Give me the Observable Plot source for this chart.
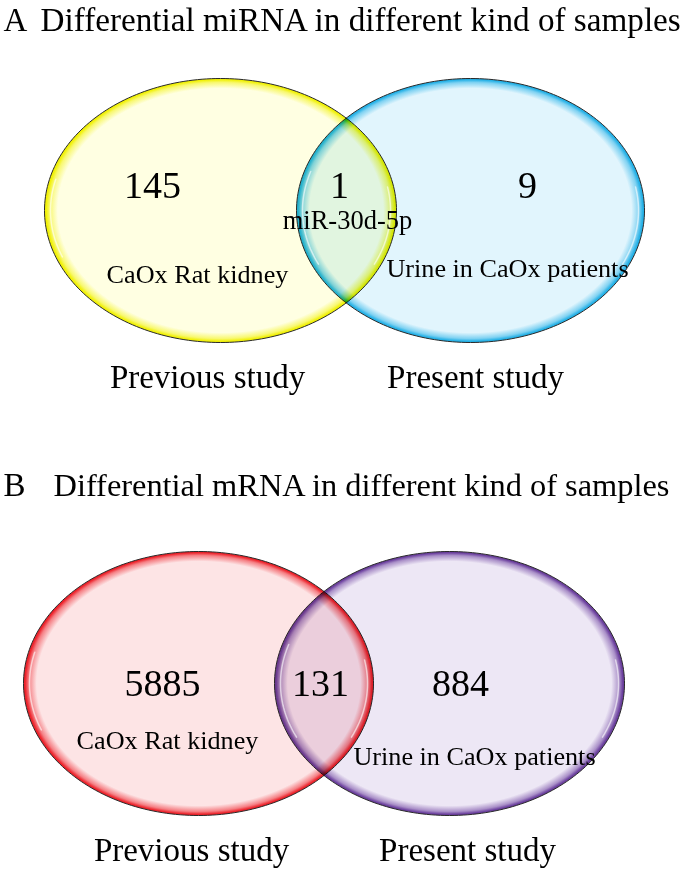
<!DOCTYPE html>
<html>
<head>
<meta charset="utf-8">
<script src="https://cdn.jsdelivr.net/npm/d3@7"></script>
<script src="https://cdn.jsdelivr.net/npm/@observablehq/plot@0.6"></script>
<style>
  html, body { margin: 0; padding: 0; background: #fff; }
  #chart svg { display: block; }
</style>
</head>
<body>
<div id="chart"></div>
<script>
// ---------- data ----------
const panelLetters = ["A", "B"];
const panelTitles = [
  "Differential miRNA in different kind of samples",
  "Differential mRNA in different kind of samples"
];
const leftOnlyCounts = [145, 5885];
const sharedCounts = [1, 131];
const rightOnlyCounts = [9, 884];
const sharedNames = ["miR-30d-5p", ""];
const leftSetNames = ["CaOx Rat kidney", "CaOx Rat kidney"];
const rightSetNames = ["Urine in CaOx patients", "Urine in CaOx patients"];
const studyNames = ["Previous study", "Present study"];

// ---------- layout & style (not data) ----------
const W = 685, H = 871;
const layout = [
  { titleY: 30, titleX: 40, letterX: 3, titleSize: 33.2,
    left: { cx: 220, cy: 210, rx: 176, ry: 132 },
    right: { cx: 470, cy: 210, rx: 174, ry: 132 },
    countY: 197, leftCountX: 152, sharedX: 339, rightCountX: 527,
    sharedNameX: 347, sharedNameY: 228,
    leftNameX: 197, leftNameY: 282, rightNameX: 507, rightNameY: 276,
    studyY: 387, studyLeftX: 207, studyRightX: 475 },
  { titleY: 495, titleX: 53, letterX: 3, titleSize: 32.4,
    left: { cx: 198, cy: 683, rx: 175, ry: 132 },
    right: { cx: 449, cy: 683, rx: 175, ry: 132 },
    countY: 695, leftCountX: 162, sharedX: 320, rightCountX: 460,
    sharedNameX: 320, sharedNameY: 725,
    leftNameX: 167, leftNameY: 748, rightNameX: 474, rightNameY: 764,
    studyY: 860, studyLeftX: 191, studyRightX: 467 }
];
const palette = [
  { left: { fill: "#ffffe2", edge: "#f0f000" }, right: { fill: "#e1f5fd", edge: "#1eaee6" } },
  { left: { fill: "#fde4e5", edge: "#ec1c24" }, right: { fill: "#ede7f5", edge: "#66399a" } }
];
const FONT = "'Liberation Serif', 'Times New Roman', serif";

// ---------- helpers ----------
function ellipsePoints(e, id, n = 240) {
  const pts = [];
  for (let i = 0; i < n; i++) {
    const t = (i / n) * 2 * Math.PI;
    pts.push({ x: e.cx + e.rx * Math.cos(t), y: e.cy + e.ry * Math.sin(t), id });
  }
  return pts;
}
function arcPoints(e, inset, t0, t1, id, n = 40) {
  const pts = [];
  for (let i = 0; i <= n; i++) {
    const t = t0 + (t1 - t0) * (i / n);
    pts.push({ x: e.cx + (e.rx - inset) * Math.cos(t), y: e.cy + (e.ry - inset) * Math.sin(t), id });
  }
  return pts;
}

// gradient defs
function defsMark() {
  const ns = "http://www.w3.org/2000/svg";
  const defs = document.createElementNS(ns, "defs");
  palette.forEach((p, i) => {
    ["left", "right"].forEach(side => {
      const g = document.createElementNS(ns, "radialGradient");
      g.setAttribute("id", `g${i}${side}`);
      [[0, 0], [0.925, 0], [0.97, 0.5], [0.99, 0.95], [1, 1]].forEach(([o, t]) => {
        const s = document.createElementNS(ns, "stop");
        s.setAttribute("offset", o);
        s.setAttribute("stop-color", d3.interpolateRgb(p[side].fill, p[side].edge)(t));
        g.appendChild(s);
      });
      defs.appendChild(g);
    });
  });
  return defs;
}

const marks = [defsMark];

panelLetters.forEach((letter, i) => {
  const L = layout[i];
  // ellipses
  marks.push(Plot.line(ellipsePoints(L.left, "l"), {
    x: "x", y: "y", curve: "linear-closed", fill: `url(#g${i}left)`,
    stroke: "#2a2a2a", strokeWidth: 1
  }));
  marks.push(Plot.line(ellipsePoints(L.right, "r"), {
    x: "x", y: "y", curve: "linear-closed", fill: `url(#g${i}right)`,
    stroke: "#2a2a2a", strokeWidth: 1, mixBlendMode: "multiply"
  }));
  // glossy highlights
  const hl = [
    ...arcPoints(L.left, 6, Math.PI * 0.88, Math.PI * 1.08, "a"),
    ...arcPoints(L.left, 6, -Math.PI * 0.06, Math.PI * 0.14, "b"),
    ...arcPoints(L.right, 6, Math.PI * 0.86, Math.PI * 1.10, "c"),
    ...arcPoints(L.right, 6, -Math.PI * 0.06, Math.PI * 0.14, "d")
  ];
  marks.push(Plot.line(hl, { x: "x", y: "y", z: "id", stroke: "white", strokeWidth: 1.5, strokeOpacity: 0.6 }));

  // titles
  marks.push(Plot.text([letter], { x: () => L.letterX, y: () => L.titleY, text: d => d,
    textAnchor: "start", lineAnchor: "bottom", fontSize: 33, fontFamily: FONT, fill: "black" }));
  marks.push(Plot.text([panelTitles[i]], { x: () => L.titleX, y: () => L.titleY, text: d => d,
    textAnchor: "start", lineAnchor: "bottom", fontSize: L.titleSize, fontFamily: FONT, fill: "black" }));

  // counts
  const counts = [
    { v: leftOnlyCounts[i], x: L.leftCountX },
    { v: sharedCounts[i], x: L.sharedX },
    { v: rightOnlyCounts[i], x: L.rightCountX }
  ];
  marks.push(Plot.text(counts, { x: "x", y: () => L.countY, text: d => String(d.v),
    lineAnchor: "bottom", fontSize: 38, fontFamily: FONT, fill: "black" }));

  // shared name
  if (sharedNames[i]) {
    marks.push(Plot.text([sharedNames[i]], { x: () => L.sharedNameX, y: () => L.sharedNameY, text: d => d,
      lineAnchor: "bottom", fontSize: 26.5, fontFamily: FONT, fill: "black" }));
  }
  // set names
  marks.push(Plot.text([
    { t: leftSetNames[i], x: L.leftNameX, y: L.leftNameY },
    { t: rightSetNames[i], x: L.rightNameX, y: L.rightNameY }
  ], { x: "x", y: "y", text: "t", lineAnchor: "bottom", fontSize: 26.2, fontFamily: FONT, fill: "black" }));
  // study names
  marks.push(Plot.text([
    { t: studyNames[0], x: L.studyLeftX },
    { t: studyNames[1], x: L.studyRightX }
  ], { x: "x", y: () => L.studyY, text: "t", lineAnchor: "bottom", fontSize: 33, fontFamily: FONT, fill: "black" }));
});

const chart = Plot.plot({
  width: W,
  height: H,
  margin: 0,
  style: { background: "white", fontFamily: FONT },
  x: { domain: [0, W], range: [0, W], axis: null },
  y: { domain: [0, H], range: [0, H], axis: null },
  marks
});
document.getElementById("chart").appendChild(chart);
</script>
</body>
</html>
